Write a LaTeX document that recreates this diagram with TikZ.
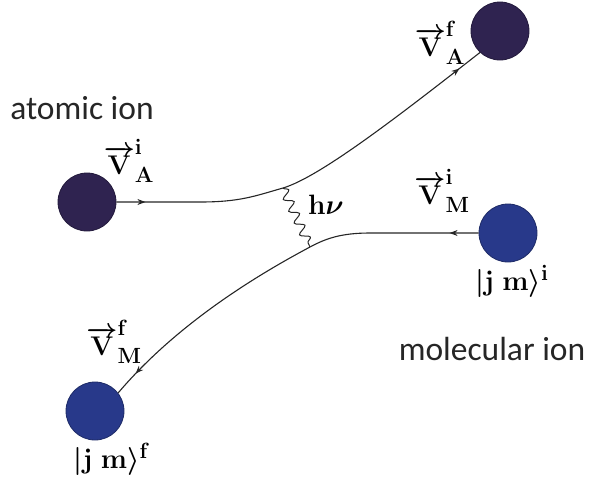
\RequirePackage{fix-cm}
\documentclass[tikz,border=0pt]{standalone}
\usepackage{fontspec}
\newfontfamily\ionfont{Carlito}
\usetikzlibrary{arrows.meta,decorations.pathmorphing,decorations.markings}
\DeclareMathSizes{27}{27}{22}{17}
\DeclareMathSizes{28}{28}{22}{17}
\definecolor{atomcol}{HTML}{2F2350}
\definecolor{molcol}{HTML}{28398A}
\tikzset{
  ion/.style={circle,minimum size=58pt,inner sep=0pt,draw=#1!75!black,line width=0.8pt,fill=#1},
  vel/.style={font=\fontsize{27}{30}\selectfont\boldmath,inner sep=0pt},
  ket/.style={font=\fontsize{28}{32}\selectfont\boldmath,inner sep=0pt},
  ionlabel/.style={font=\ionfont\fontsize{33.5}{40}\selectfont,text=black!85,inner sep=0pt},
  traj/.style={line width=1.1pt,black!85,postaction={decorate,decoration={markings,
    mark=at position 29pt with {\arrow{Stealth[length=8pt,width=6pt]}},
    mark=at position -26pt with {\arrow{Stealth[length=8pt,width=6pt]}}}}},
  photon/.style={line width=1pt,black!85,decorate,decoration={snake,segment length=13pt,amplitude=4.5pt}}
}
\begin{document}
\begin{tikzpicture}[x=1pt,y=-1pt]
  \useasboundingbox (0,0) rectangle (590,483);
  % the four ions
  \node[ion=atomcol] (ai) at (87,202) {};
  \node[ion=atomcol] (af) at (500,31) {};
  \node[ion=molcol] (mi) at (508,233) {};
  \node[ion=molcol] (mf) at (95,411) {};
  % way points of the two paths
  \coordinate (a1) at (200,202);
  \coordinate (ph1) at (283,188);
  \coordinate (m1) at (370,233);
  \coordinate (ph2) at (310,247);
  \draw[traj] (ai.east) -- (a1) .. controls (240,202) and (255,196) .. (ph1)
    .. controls (320,177) and (400,115) .. (af.227);
  \draw[traj] (mi.west) -- (m1) .. controls (340,233) and (325,239) .. (ph2)
    .. controls (265,271) and (180,320) .. (mf.38);
  \draw[photon] (ph1) -- (ph2);
  % labels
  \node[ionlabel] (atomlbl) at (82,108) {atomic ion};
  \node[ionlabel] (mollbl) at (492,349) {molecular ion};
  \node[vel] (vai) at (129,161) {$\overrightarrow{\mathbf V}^{\mathbf i}_{\mathbf A}$};
  \node[vel] (vaf) at (440,43) {$\overrightarrow{\mathbf V}^{\mathbf f}_{\mathbf A}$};
  \node[vel] (vmi) at (442,191) {$\overrightarrow{\mathbf V}^{\mathbf i}_{\mathbf M}$};
  \node[vel] (vmf) at (114,342) {$\overrightarrow{\mathbf V}^{\mathbf f}_{\mathbf M}$};
  \node[ket] (hnu) at (326,205) {$\mathbf h\nu$};
  \node[ket] (jmi) at (512,281) {$|\mathbf j\ \mathbf m\rangle^{\mathbf i}$};
  \node[ket] (jmf) at (112,459) {$|\mathbf j\ \mathbf m\rangle^{\mathbf f}$};
\end{tikzpicture}
\end{document}
